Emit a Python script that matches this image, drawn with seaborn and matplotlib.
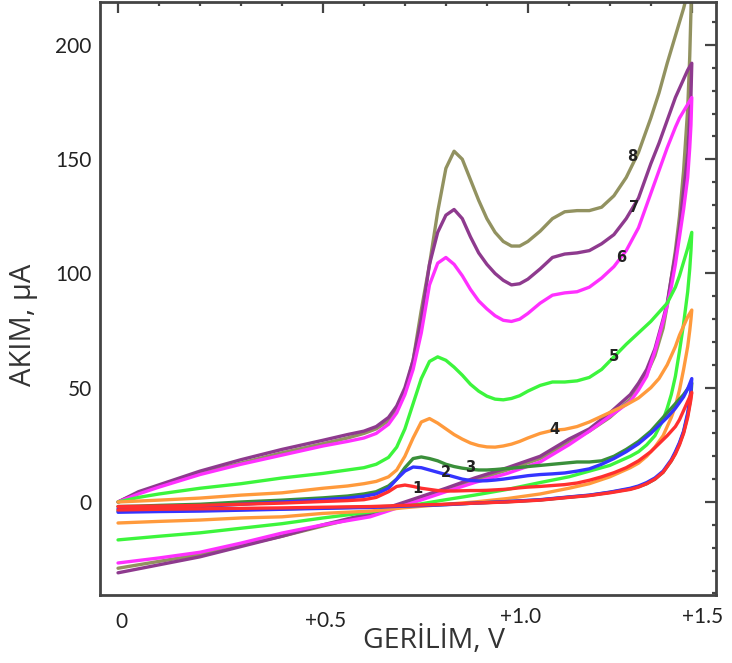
import matplotlib
matplotlib.use("Agg")
import matplotlib.pyplot as plt
import matplotlib.transforms as mtransforms
from matplotlib.ticker import MultipleLocator, FixedLocator
import seaborn as sns
import pandas as pd

# ---------------- data ----------------
# forward (anodic) scan potentials, V
FWD_V = [0.00, 0.05, 0.10, 0.20, 0.30, 0.40, 0.50, 0.56, 0.60, 0.63,
         0.66, 0.68, 0.70, 0.72, 0.74, 0.76, 0.78, 0.80, 0.82, 0.84,
         0.86, 0.88, 0.90, 0.92, 0.94, 0.96, 0.98, 1.00, 1.03, 1.06,
         1.09, 1.12, 1.15, 1.18, 1.21, 1.24, 1.27, 1.30, 1.32, 1.34,
         1.36, 1.37, 1.38, 1.39, 1.40]
# reverse scan potentials, V
REV_V = [1.40, 1.398, 1.395, 1.39, 1.38, 1.37, 1.36, 1.35, 1.34, 1.33, 1.31, 1.29,
         1.27, 1.25, 1.20, 1.15, 1.10, 1.03, 0.95, 0.87, 0.80, 0.70, 0.615, 0.50,
         0.40, 0.30, 0.20, 0.10, 0.00]

# currents, uA
fwd_1 = [-2, -1.9, -1.8, -1.5, -1, -0.5, 0.2, 0.6, 1, 2,
         4.5, 6.8, 7.4, 6.8, 6, 5.5, 5, 4.8, 4.8, 4.9,
         5, 5, 5.1, 5.3, 5.5, 5.8, 6.2, 6.5, 6.8, 7.2,
         7.6, 8.3, 9.5, 11, 12.8, 15, 18, 22, 25.5, 29,
         33, 36, 40, 44, 48]
rev_1 = [48, 45, 42, 37, 30, 25, 21, 18, 15.5, 13, 10, 8, 6.5, 5.5, 4, 2.8, 2, 0.8, 0,
         -0.5, -1, -1.5, -2, -2.3, -2.6, -2.8, -3, -3.2, -3.5]

fwd_2 = [-3, -2.8, -2.5, -2, -1, 0, 1, 1.7, 2.5, 3.5,
         6, 10, 13.5, 15.3, 15, 14, 13, 12, 11, 10,
         9.4, 9.2, 9.3, 9.6, 10, 10.5, 11, 11.5, 12, 12.3,
         12.7, 13.5, 14.5, 16.5, 19, 22, 25.5, 30, 33.5, 37,
         41, 43.5, 46, 49.5, 54]
rev_2 = [54, 49, 45, 39, 31, 26, 22, 18.5, 16, 13.5, 10.5, 8.5, 7, 6, 4.3, 3, 2.2, 1, 0.2,
         -0.5, -1.2, -1.8, -2.4, -2.8, -3.2, -3.6, -4, -4.2, -4.5]

fwd_3 = [-2, -1.8, -1.5, -1, 0, 0.8, 1.8, 2.6, 3.5, 4.5,
         7, 10, 15, 19, 19.7, 19, 18, 16.5, 15.5, 14.8,
         14.3, 14, 14, 14.2, 14.5, 14.8, 15.1, 15.5, 16, 16.5,
         17, 17.5, 17.5, 18, 20, 23, 26.5, 31, 35, 39,
         43, 45, 47, 49.5, 52]
rev_3 = [52, 47, 43, 38, 30.5, 25.5, 21.5, 18, 15.5, 13, 10, 8, 6.7, 5.7, 4.2, 2.9, 2.1,
         0.9, 0.1, -0.5, -1.1, -1.7, -2.2, -2.6, -3, -3.3, -3.6, -3.8, -4]

fwd_4 = [0, 0.4, 0.8, 1.7, 3, 4, 6, 7, 8, 9,
         11, 14, 20, 28, 35, 36.5, 34.5, 32, 29.5, 27.5,
         25.8, 24.7, 24.1, 24, 24.5, 25.3, 26.5, 28, 30, 31.3,
         31.8, 33, 35, 37.5, 40, 42.5, 45.5, 50, 54, 60,
         68, 73, 77, 81, 84]
rev_4 = [84, 80, 75, 68, 58, 49, 42, 37, 33, 29, 24, 20, 17, 15, 11, 8, 6, 3.5, 1.5, 0,
         -1, -2.5, -4, -5, -6.5, -7, -7.9, -8.5, -9.2]

fwd_5 = [0, 2, 3.5, 6, 8, 10.5, 12.5, 14, 15, 16.5,
         19.5, 24, 32, 43, 54, 61.5, 63.5, 62, 59, 55.5,
         51.5, 48.5, 46.3, 45, 44.7, 45.3, 46.5, 48.5, 51, 52.5,
         52.5, 53, 54.5, 58, 63.5, 69, 74, 79, 83, 87,
         94, 99, 105, 111, 118]
rev_5 = [118, 110, 102, 92, 78, 66, 55, 47, 41, 36, 29, 25, 22, 20, 16, 13.5, 11, 8.5,
         5.5, 3, 1, -2, -4.4, -7, -9.5, -11.5, -13.5, -15, -16.6]

fwd_6 = [0, 3.5, 6.5, 12, 16.5, 20.5, 24.5, 26.5, 28, 30,
         34, 39, 47, 58, 74, 95, 104.5, 107, 104, 99,
         93, 88, 84.5, 81.5, 79.5, 79, 80, 82.5, 87, 90.5,
         91.5, 92, 94, 98, 103, 110, 120, 135, 145, 155,
         164, 168, 171, 174, 177]
rev_6 = [177, 165, 155, 142, 128, 116, 104, 94, 86, 79, 66, 55, 49, 44, 37.5, 31, 25,
         17.5, 12.5, 8.5, 4.5, -1.5, -6.5, -10, -13.6, -18, -22, -24.5, -26.7]

fwd_7 = [0, 4.5, 7.5, 13.5, 18.5, 23, 27, 29.5, 31, 33,
         37, 42, 50, 62, 80, 104, 118, 125.5, 128, 124,
         116, 109, 104, 100, 97, 95, 95.5, 97.5, 102, 107,
         108.5, 109, 110, 113, 117, 124, 133, 148, 157, 167,
         177, 181, 185, 189, 192]
rev_7 = [192, 178, 168, 152, 136, 120, 108, 98, 87, 80, 67, 58, 52, 47, 39, 32, 27.5,
         20, 15, 10.5, 6, 0, -5, -10, -15, -19.5, -24, -27.5, -31]

fwd_8 = [0, 4, 7, 12.5, 17, 21.5, 25.5, 28, 30, 32,
         35.5, 40, 48, 62, 84, 104, 127, 146, 153.5, 150,
         141, 132, 124, 118, 114, 112, 112, 114, 118.5, 124,
         127, 127.5, 127.5, 129, 134, 142, 153, 168, 179, 192,
         204, 210, 216, 223, 235]
rev_8 = [235, 215, 195, 172, 145, 125, 110, 98, 86, 76, 64, 56, 50, 45, 37, 31, 26, 19,
         14, 9.5, 5.5, -0.5, -5.5, -10.5, -15, -19, -23, -26, -29]

CURVE_IDS = ["1", "2", "3", "4", "5", "6", "7", "8"]
COLORS = ["#ff2f2f", "#3434ff", "#3a8f3a", "#ff9a3c", "#3cf53c", "#ff30ff",
          "#8e3a8e", "#929260"]
FWD = [fwd_1, fwd_2, fwd_3, fwd_4, fwd_5, fwd_6, fwd_7, fwd_8]
REV = [rev_1, rev_2, rev_3, rev_4, rev_5, rev_6, rev_7, rev_8]

# curve number labels (V, uA)
LABEL_V = [0.73, 0.80, 0.86, 1.066, 1.21, 1.227, 1.26, 1.255]
LABEL_I = [6, 12.7, 15.3, 31.5, 63.5, 107, 129, 151]

X_TICKS = [0.0, 0.5, 1.0, 1.4]
X_TICK_LABELS = ["0", "+0.5", "+1.0", "+1.5"]
Y_TICKS = [0, 50, 100, 150, 200]
X_LABEL = "GERİLİM, V"
Y_LABEL = "AKIM, μA"

for f, r in zip(FWD, REV):
    assert len(f) == len(FWD_V) and len(r) == len(REV_V)

# ---------------- plot ----------------
sns.set_theme(style="white")
plt.rcParams["font.family"] = ["Open Sans", "DejaVu Sans"]

fig = plt.figure(figsize=(7.32, 6.63), dpi=100)
ax = fig.add_axes([0.1366, 0.1026, 0.8415, 0.8944])

rows = []
for cid, fv, rv in zip(CURVE_IDS, FWD, REV):
    order = 0
    for v, i in zip(FWD_V, fv):
        rows.append({"curve": cid, "order": order, "V": v, "I": i}); order += 1
    for v, i in zip(REV_V, rv):
        rows.append({"curve": cid, "order": order, "V": v, "I": i}); order += 1
df = pd.DataFrame(rows)

for cid, col in list(zip(CURVE_IDS, COLORS))[::-1]:
    sub = df[df["curve"] == cid].sort_values("order")
    sns.lineplot(data=sub, x="V", y="I", sort=False, estimator=None, color=col,
                 lw=2.4, ax=ax, legend=False)
for ln in ax.lines:
    ln.set_solid_joinstyle("round")

for cid, lv, li in zip(CURVE_IDS, LABEL_V, LABEL_I):
    ax.text(lv, li, cid, fontsize=10.5, fontweight="bold", color="#222222",
            ha="center", va="center", family="DejaVu Sans")

ax.set_xlim(-0.044, 1.459)
ax.set_ylim(-40.7, 218.8)

ax.xaxis.set_major_locator(FixedLocator(X_TICKS))
ax.set_xticklabels(X_TICK_LABELS)
ax.xaxis.set_minor_locator(MultipleLocator(0.1))
ax.yaxis.set_major_locator(FixedLocator(Y_TICKS))
ax.yaxis.set_minor_locator(MultipleLocator(10))

ax.tick_params(which="both", direction="in", top=True, right=True,
               color="#444444", width=1.6)
ax.tick_params(which="major", length=8)
ax.tick_params(which="minor", length=3)
ax.tick_params(axis="y", which="major", pad=6, labelsize=15, labelcolor="#222222")
ax.tick_params(axis="x", which="major", pad=12, labelsize=15, labelcolor="#222222")
for lab in ax.get_xticklabels() + ax.get_yticklabels():
    lab.set_family(["Lato", "DejaVu Sans"])

# small offsets of the x tick labels as placed in the reference (pixels)
X_LABEL_SHIFT = [(3, 0), (3, 1), (-7, 5), (11, 5)]
for lab, (dx, dy) in zip(ax.get_xticklabels(), X_LABEL_SHIFT):
    lab.set_transform(lab.get_transform() +
                      mtransforms.ScaledTranslation(dx / 100, dy / 100,
                                                    fig.dpi_scale_trans))

for sp in ax.spines.values():
    sp.set_color("#444444")
    sp.set_linewidth(2)

ax.set_xlabel(X_LABEL, fontsize=20.5, color="#333333")
ax.set_ylabel(Y_LABEL, fontsize=21, color="#333333")
ax.xaxis.set_label_coords(0.542, -0.052)
ax.yaxis.set_label_coords(-0.10, 0.455)

fig.savefig("out.png", dpi=100)
